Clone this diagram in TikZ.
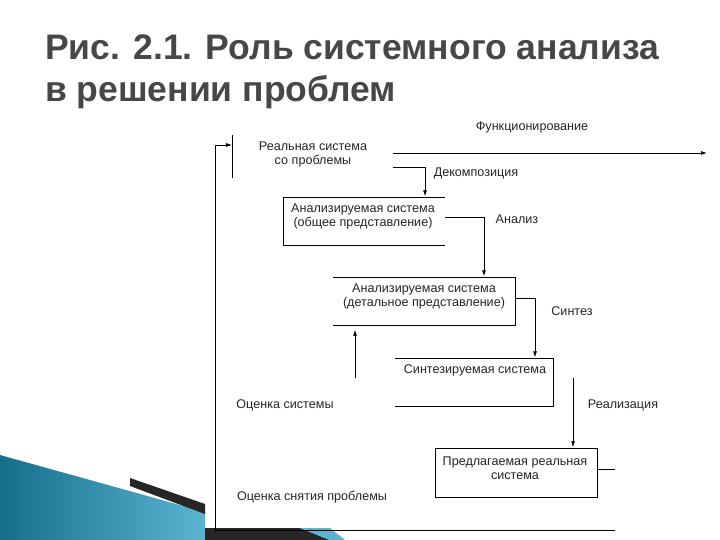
\documentclass[tikz,border=0pt]{standalone}
\usepackage{fontspec}
\setmainfont{Liberation Sans}
\usetikzlibrary{arrows.meta}
\definecolor{tealA}{RGB}{20,110,140}
\definecolor{tealB}{RGB}{90,180,210}
\begin{document}
\begin{tikzpicture}[x=1pt,y=-1pt,
  ln/.style={draw=black,line width=0.8pt},
  arr/.style={ln,-{Latex[length=6pt,width=4pt]}},
  lbl/.style={font=\fontsize{12.6}{14}\selectfont,text=black!85,align=center,inner sep=0pt},
  ttl/.style={font=\fontsize{35.5}{40}\selectfont\bfseries,text=black!72,anchor=base west,inner sep=0pt}]
\useasboundingbox (0,0) rectangle (720,540);
\fill[white] (0,0) rectangle (720,540);
% decoration
\shade[left color=tealA,right color=tealB]
  (0,455) -- (205,512) -- (205,540) -- (0,540) -- cycle;
\fill[black!85] (130,478) -- (205,504) -- (205,514) -- (130,486) -- cycle;
\fill[black!85] (205,528) -- (300,528) -- (330,540) -- (205,540) -- cycle;
\fill[tealB] (300,528) -- (330,528) -- (345,540) -- (330,540) -- cycle;
% title
\node[ttl] (t1) at (45,60) {Рис. 2.1. Роль системного анализа};
\node[ttl] (t2) at (45,102) {в решении проблем};
% frame
\coordinate (fTop) at (215,145);
\coordinate (fBot) at (215,530);
\coordinate (fEnd) at (615,530);
\coordinate (barT) at (232,135);
\coordinate (barB) at (232,178);
\coordinate (barM) at (232,145);
\draw[ln] (barT) -- (barB);
\draw[arr] (fEnd) -- (fBot) -- (fTop) -- (barM);
\node[lbl] (real) at (313,154) {Реальная система\\со проблемы};
% functioning
\coordinate (fs) at (393,153); \coordinate (fe) at (707,153);
\draw[arr] (fs) -- (fe);
\node[lbl] (func) at (532,127) {Функционирование};
% decomposition
\coordinate (d0) at (393,167); \coordinate (d1) at (425,167);
\node[inner sep=0pt] (b1t) at (425,197) {};
\draw[arr] (d0) -- (d1) -- (b1t);
\node[lbl] (dec) at (476,173) {Декомпозиция};
% box1
\draw[ln] (445,197) -- (283,197) -- (283,245) -- (445,245);
\node[lbl] (b1) at (363,216) {Анализируемая система\\(общее представление)};
\coordinate (a0) at (445,217); \coordinate (a1) at (484,217);
\node[inner sep=0pt] (b2t) at (484,277) {};
\draw[arr] (a0) -- (a1) -- (b2t);
\node[lbl] (an) at (517,219) {Анализ};
% box2
\draw[ln] (333,277) -- (515,277) -- (515,325) -- (333,325);
\node[lbl] (b2) at (424,296) {Анализируемая система\\(детальное представление)};
\coordinate (s0) at (515,298); \coordinate (s1) at (535,298);
\node[inner sep=0pt] (b3t) at (535,358) {};
\draw[arr] (s0) -- (s1) -- (b3t);
\node[lbl] (syn) at (572,311) {Синтез};
% evaluation arrow
\coordinate (e0) at (355,378); \node[inner sep=0pt] (e1) at (355,329) {};
\draw[arr] (e0) -- (e1);
% box3
\draw[ln] (395,358) -- (553,358) -- (553,406) -- (395,406);
\node[lbl] (b3) at (475,370) {Синтезируемая система};
\node[lbl] (ev) at (285,405) {Оценка системы};
% realization
\coordinate (r0) at (573,378); \node[inner sep=0pt] (b4t) at (573,448) {};
\draw[arr] (r0) -- (b4t);
\node[lbl] (re) at (623,405) {Реализация};
% box4
\draw[ln] (435,448) rectangle (597,497);
\node[lbl] (b4) at (515,468) {Предлагаемая реальная\\система};
\draw[ln] (597,469) -- (615,469);
\node[lbl] (ev2) at (312,497) {Оценка снятия проблемы};
\end{tikzpicture}
\end{document}
